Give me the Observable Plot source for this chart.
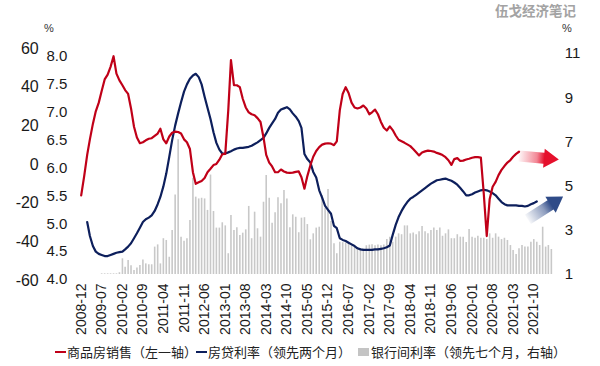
<!DOCTYPE html>
<html><head><meta charset="utf-8">
<script src="https://cdn.jsdelivr.net/npm/d3@7"></script>
<script src="https://cdn.jsdelivr.net/npm/@observablehq/plot@0.6"></script>
<style>
body{margin:0;background:#fff;}
#chart{position:relative;width:600px;height:366px;overflow:hidden;background:#fff;font-family:"Liberation Sans",Arial,sans-serif;color:#1a1a1a;}
.abs{position:absolute;white-space:nowrap;}
.cjk{font-family:"Noto Sans CJK SC","Noto Sans",sans-serif;}
</style></head><body>
<svg width="0" height="0" style="position:absolute">
<defs>
<linearGradient id="gradRed" x1="0" y1="1" x2="0" y2="0">
<stop offset="0" stop-color="#e5102c" stop-opacity="0.04"/>
<stop offset="0.45" stop-color="#e5102c" stop-opacity="0.5"/>
<stop offset="0.64" stop-color="#e5102c" stop-opacity="1"/>
<stop offset="1" stop-color="#e5102c" stop-opacity="1"/>
</linearGradient>
<linearGradient id="gradBlue" x1="0" y1="1" x2="0" y2="0">
<stop offset="0" stop-color="#2f4b88" stop-opacity="0.04"/>
<stop offset="0.45" stop-color="#2f4b88" stop-opacity="0.55"/>
<stop offset="0.66" stop-color="#2f4b88" stop-opacity="1"/>
<stop offset="1" stop-color="#2f4b88" stop-opacity="1"/>
</linearGradient>
</defs>
</svg>
<div id="chart"></div>
<script>
// ---- data ----
const salesStart = "2008-12"; // 商品房销售 (left outer axis, %)
const sales = [-16,-6,5,13,21,27.5,32,38,44,46.5,50.5,56,47,43.5,41,38.5,36.5,29,19.5,14,
11,11.5,12.5,13.3,13.6,14.8,16,18.5,13,11,14.5,16.4,17,16.8,16,13,11.5,8,-4,-10,
-9.2,-8.5,-7,-4,-2.2,-0.3,0.3,2.5,5.3,5.5,28,54,41,41,40,34,29.5,27,26,25.5,
24,22,14,5,1,-1,-4,-4,-2.6,-3.6,-4.2,-4.3,-4.2,-3.8,-3.6,-6.6,-12.5,-6,-0.5,4,
7,9,10.3,10.8,11,10.8,10,12,28,36.5,40,37,32,29.5,29,29.5,30.5,29,26,27,
28.4,26,22,19,17.6,19.7,17.8,15,12.8,12,11.2,10.4,9.5,8,6.3,4.7,6.2,6.8,7.2,7,
6.7,6,5.5,4.9,3.8,2.2,-0.2,2.8,3.3,1.8,2,2.6,3,3.5,3.8,3.8,3.6,-15,-37,-18,
-11.5,-9,-5.5,-2.8,-0.8,1,2.3,4,5.5,6.6];

const mortgageStart = "2009-02"; // 房贷利率 (left inner axis, %)
const mortgage = [5.03,4.78,4.6,4.5,4.46,4.44,4.42,4.42,4.44,4.46,4.48,4.49,4.5,4.54,4.59,4.65,4.74,4.83,4.93,5.03,
5.08,5.11,5.15,5.23,5.35,5.48,5.67,5.9,6.2,6.5,6.76,6.98,7.18,7.37,7.5,7.6,7.66,7.69,7.63,7.5,
7.28,7.08,6.88,6.64,6.45,6.33,6.26,6.26,6.28,6.3,6.33,6.35,6.36,6.36,6.37,6.38,6.4,6.43,6.46,6.5,
6.54,6.62,6.72,6.8,6.88,6.99,7.05,7.07,7.09,7.05,6.98,6.92,6.84,6.72,6.25,6.16,6.1,5.93,5.83,5.6,
5.47,5.32,5.25,5.18,4.96,4.92,4.74,4.71,4.69,4.66,4.63,4.6,4.56,4.54,4.53,4.53,4.53,4.53,4.54,4.54,
4.55,4.56,4.58,4.61,4.8,4.98,5.12,5.23,5.32,5.39,5.45,5.48,5.52,5.56,5.6,5.64,5.68,5.72,5.75,5.78,
5.79,5.8,5.81,5.79,5.77,5.74,5.7,5.64,5.58,5.51,5.51,5.53,5.56,5.58,5.6,5.61,5.6,5.58,5.55,5.51,
5.45,5.39,5.35,5.33,5.33,5.33,5.33,5.32,5.32,5.31,5.32,5.35,5.37,5.4];

const interbankStart = "2009-07"; // 银行间利率 (right axis, %)
const interbank = [1.03,1.03,1.03,1.03,1.03,1.03,1.08,1.71,1.33,1.63,1.4,1.18,1.29,1.41,1.66,1.48,1.44,1.44,2.24,2.34,
1.48,2.62,2.54,1.78,2.99,4.6,7.1,2.69,2.5,2.62,3.44,5.35,4.5,4.42,4.45,4.42,3.9,5.5,3.85,3.1,
3.1,3.34,3.2,1.94,3.67,2.99,3.11,2.76,2.87,3.02,4.08,2.62,3.82,3.07,2.69,4.27,5.48,4.45,3.32,3.79,
4.47,4.2,4.8,4.42,3.11,3.7,3.59,2.89,3.55,3.57,3.26,2.57,2.84,3.1,3.14,4.57,4.0,4.85,3.4,2.39,
1.94,2.46,2.44,2.42,2.41,2.37,2.25,2.19,2.17,2.15,2.3,2.33,2.35,2.3,2.33,2.3,2.33,2.58,2.69,2.46,
2.69,2.84,2.8,3.2,3.2,2.84,2.88,2.8,2.94,3.17,2.94,2.84,2.99,3.1,2.99,3.1,2.73,2.84,3.02,2.62,
2.62,2.8,2.69,2.69,2.45,3.04,2.69,2.64,2.73,2.64,2.64,2.58,2.84,2.64,2.84,2.69,2.58,2.64,2.54,2.31,
2.09,1.9,2.16,2.31,2.24,2.24,2.46,2.58,2.46,2.31,3.14,2.24,2.31,2.13];

const tickLabels = ["2008-12","2009-07","2010-02","2010-09","2011-04","2011-11","2012-06","2013-01",
"2013-08","2014-03","2014-10","2015-05","2015-12","2016-07","2017-02","2017-09","2018-04","2018-11",
"2019-06","2020-01","2020-08","2021-03","2021-10"];
const salesTicks = [-60,-40,-20,0,20,40,60];
const mortgageTicks = [4,4.5,5,5.5,6,6.5,7,7.5,8];
const interbankTicks = [1,3,5,7,9,11];
const seriesNames = ["商品房销售（左一轴）","房贷利率（领先两个月）","银行间利率（领先七个月，右轴）"];
const source = "伍戈经济笔记";
// trend arrows anchored in right-axis units
const arrowSales = [{month: "2021-05", value: 6.36}];
const arrowMortgage = [{month: "2021-08", value: 3.49}];

// ---- build ----
const pm = d3.utcParse("%Y-%m");
const toSeries = (start, vals) => vals.map((v, i) => ({date: d3.utcMonth.offset(pm(start), i), v}));
const salesData = toSeries(salesStart, sales);
const mortgageData = toSeries(mortgageStart, mortgage);
const interbankData = toSeries(interbankStart, interbank);
const xDomain = [d3.utcDay.offset(pm("2008-12"), -15), d3.utcDay.offset(pm("2022-04"), 15)];
const ML = 79.25, MR = 47.7, W = 600, H = 366;

const blockArrow = {
  draw(context, l) {
    const bw = 5.5, hw = 9.5, hl = 15;
    context.moveTo(-bw, 0);
    context.lineTo(-bw, -(l - hl));
    context.lineTo(-hw, -(l - hl));
    context.lineTo(0, -l);
    context.lineTo(hw, -(l - hl));
    context.lineTo(bw, -(l - hl));
    context.lineTo(bw, 0);
    context.closePath();
  }
};

const chart = document.getElementById("chart");
function layer(svg) {
  Object.assign(svg.style, {position: "absolute", left: "0px", top: "0px", background: "transparent", overflow: "visible", fontFamily: "'Liberation Sans', Arial, sans-serif", color: "#1a1a1a"});
  chart.appendChild(svg);
}

// bars + x axis + right axis
layer(Plot.plot({
  width: W, height: H, marginLeft: ML, marginRight: MR, marginTop: 53, marginBottom: H - 274,
  x: {type: "utc", domain: xDomain, label: null},
  y: {domain: [1, 11], label: null},
  marks: [
    Plot.ruleX(interbankData, {x: "date", y1: 1, y2: "v", stroke: "#c8c8c8", strokeWidth: 1.6}),
    Plot.axisX({ticks: tickLabels.map(pm), tickFormat: d3.utcFormat("%Y-%m"), tickRotate: -90, tickSize: 0, tickPadding: 9, fontSize: 14, label: null}),
    Plot.axisY({anchor: "right", ticks: interbankTicks, tickFormat: d => String(d), tickSize: 0, tickPadding: 12, fontSize: 15, label: null}),
    Plot.vector(arrowSales, {x: d => pm(d.month), y: "value", rotate: 95, length: 40, anchor: "start", shape: blockArrow, fill: "url(#gradRed)", stroke: "none"}),
    Plot.vector(arrowMortgage, {x: d => pm(d.month), y: "value", rotate: 57, length: 42, anchor: "start", shape: blockArrow, fill: "url(#gradBlue)", stroke: "none"})
  ]
}));

// mortgage line, inner left axis
layer(Plot.plot({
  width: W, height: H, marginLeft: ML, marginRight: MR, marginTop: 56, marginBottom: H - 279,
  x: {type: "utc", domain: xDomain, axis: null},
  y: {domain: [4, 8], label: null},
  marks: [
    Plot.axisY({anchor: "left", ticks: mortgageTicks, tickFormat: d3.format(".1f"), tickSize: 0, tickPadding: 12.5, fontSize: 15, label: null}),
    Plot.line(mortgageData, {x: "date", y: "v", stroke: "#0d1f5c", strokeWidth: 2.2})
  ]
}));

// sales line, outer left axis
layer(Plot.plot({
  width: W, height: H, marginLeft: ML, marginRight: MR, marginTop: 48, marginBottom: H - 280,
  x: {type: "utc", domain: xDomain, axis: null},
  y: {domain: [-60, 60], label: null},
  marks: [
    Plot.axisY({anchor: "left", ticks: salesTicks, tickFormat: d => String(d), tickSize: 0, tickPadding: 41, fontSize: 16, label: null}),
    Plot.line(salesData, {x: "date", y: "v", stroke: "#c00018", strokeWidth: 2.2})
  ]
}));

// texts
function addText(txt, css, cls) {
  const el = document.createElement("div");
  el.className = "abs " + (cls || "");
  el.textContent = txt;
  Object.assign(el.style, css);
  chart.appendChild(el);
  return el;
}
addText(source, {left: "495px", top: "2px", fontSize: "13.5px", fontWeight: "bold", color: "#a3a3a3", lineHeight: "16px"}, "cjk");
addText("%", {left: "44px", top: "21px", fontSize: "11px", lineHeight: "14px", color: "#333"});
addText("%", {left: "562px", top: "21px", fontSize: "11px", lineHeight: "14px", color: "#333"});

// legend
function swatch(css) {
  const el = document.createElement("div");
  el.className = "abs";
  Object.assign(el.style, css);
  chart.appendChild(el);
}
swatch({left: "55px", top: "350.7px", width: "11px", height: "2px", background: "#c00018"});
addText(seriesNames[0], {left: "67px", top: "344px", fontSize: "13px", lineHeight: "15px", color: "#222"}, "cjk");
swatch({left: "196px", top: "350.7px", width: "11px", height: "2px", background: "#0d1f5c"});
addText(seriesNames[1], {left: "208px", top: "344px", fontSize: "13px", lineHeight: "15px", color: "#222"}, "cjk");
swatch({left: "358px", top: "348px", width: "11px", height: "8px", background: "#c4c4c4"});
addText(seriesNames[2], {left: "371px", top: "344px", fontSize: "13px", lineHeight: "15px", color: "#222"}, "cjk");
</script>
</body></html>
